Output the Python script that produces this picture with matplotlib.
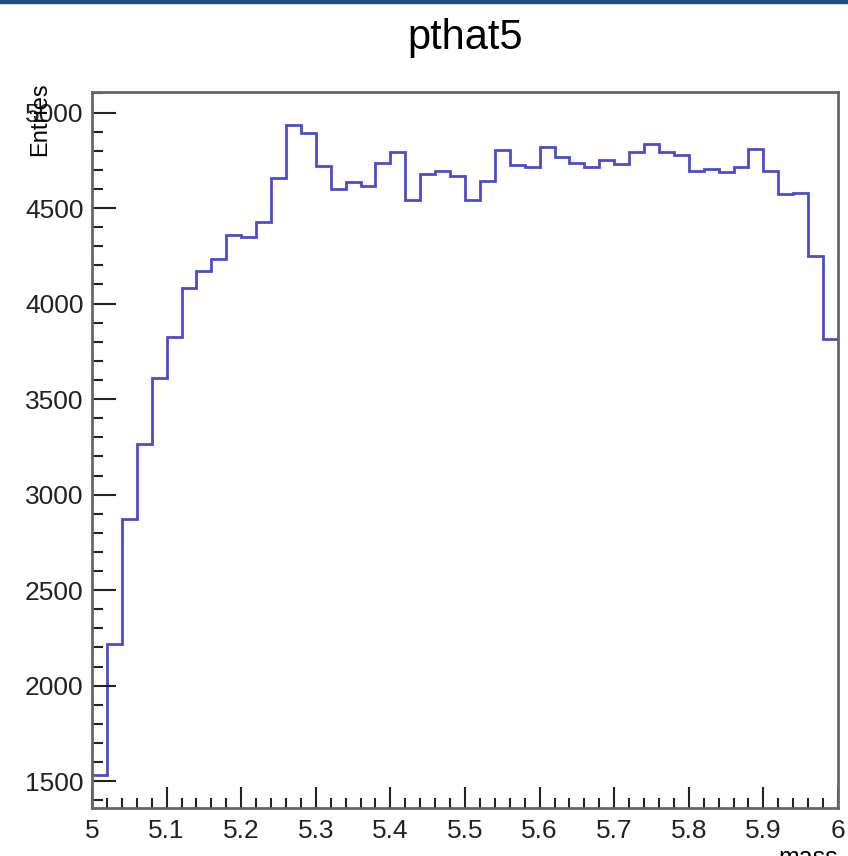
import numpy as np
import matplotlib
matplotlib.use("Agg")
from matplotlib import pyplot as plt
from matplotlib.ticker import MultipleLocator

plt.rcParams['font.family'] = ['Liberation Sans', 'DejaVu Sans']

# mass histogram, 50 bins from 5 to 6
x_low, x_high, n_bins = 5.0, 6.0, 50
counts = [1530, 2216, 2872, 3264, 3609, 3823, 4079, 4171, 4232, 4358,
          4346, 4428, 4655, 4937, 4893, 4718, 4600, 4636, 4617, 4736,
          4794, 4540, 4680, 4696, 4666, 4544, 4640, 4806, 4724, 4715,
          4820, 4765, 4736, 4715, 4750, 4732, 4794, 4836, 4794, 4776,
          4694, 4704, 4688, 4715, 4807, 4694, 4573, 4578, 4247, 3812]
title = 'pthat5'
x_title = 'mass'
y_title = 'Entries'

edges = np.linspace(x_low, x_high, n_bins + 1)
lo, hi = min(counts), max(counts)
margin = 0.05 * (hi - lo)

fig = plt.figure(figsize=(8.48, 8.56), dpi=100)
ax = fig.add_axes([92 / 848, 1 - 808 / 856, 746 / 848, 716 / 856])

ax.stairs(counts, edges, color='#4b4bd2', lw=2, baseline=None)
ax.set_xlim(x_low, x_high)
ax.set_ylim(lo - margin, hi + margin)

ax.xaxis.set_major_locator(MultipleLocator(0.1))
ax.xaxis.set_minor_locator(MultipleLocator(0.02))
ax.yaxis.set_major_locator(MultipleLocator(500))
ax.yaxis.set_minor_locator(MultipleLocator(100))
ax.xaxis.set_major_formatter(lambda v, p: f'{v:g}')

ax.tick_params(which='both', direction='in', labelsize=19, colors='#222222',
               top=False, right=False)
ax.tick_params(axis='y', which='major', length=17, width=1.5, pad=6)
ax.tick_params(axis='y', which='minor', length=8, width=1.5)
ax.tick_params(axis='x', which='major', length=15, width=1.5, pad=8)
ax.tick_params(axis='x', which='minor', length=7, width=1.5)
for s in ax.spines.values():
    s.set_color('#666666')
    s.set_linewidth(2)

fig.text(465 / 848, 1 - 38 / 856, title, ha='center', va='center', fontsize=30)
fig.text(40 / 848, 1 - 82 / 856, y_title, rotation=90, ha='center', va='top',
         fontsize=17)
fig.text(838 / 848, 1 - 846 / 856, x_title, ha='right', va='top', fontsize=18)

# thin banner strip along the top edge
fig.patches.append(plt.Rectangle((0, 1 - 3 / 856), 1, 3 / 856,
                                 transform=fig.transFigure, color='#1f4d7e'))

fig.savefig('out.png', dpi=100)
